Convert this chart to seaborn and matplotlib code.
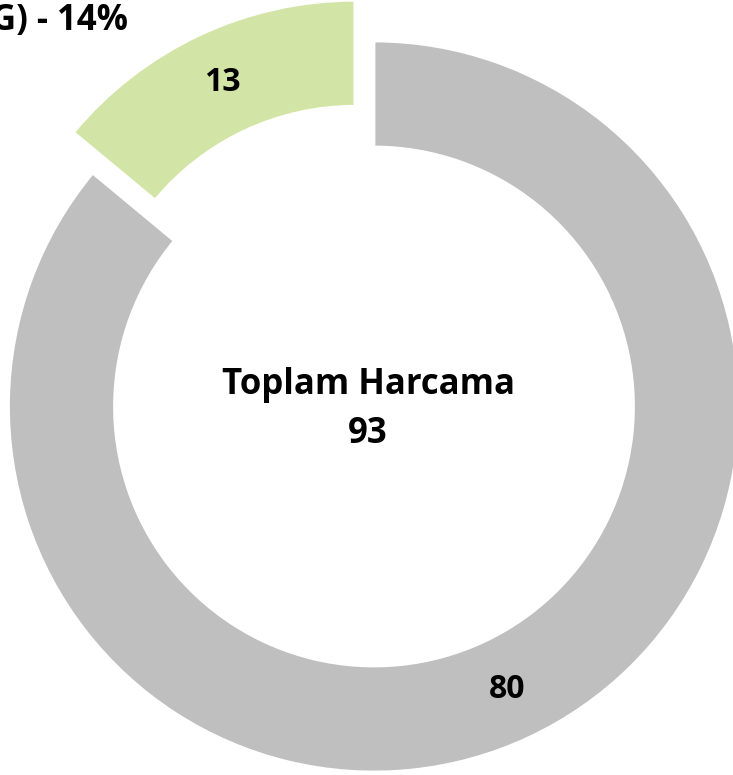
import matplotlib
matplotlib.use("Agg")
import matplotlib.pyplot as plt
import seaborn as sns

# data
labels = ["Yeşil", "Gri"]
values = [13, 80]
colors = ["#D3E4A7", "#BFBFBF"]
center_title = "Toplam Harcama"

sns.set_theme(style="white")
plt.rcParams['font.family'] = ['Open Sans', 'DejaVu Sans']
plt.rcParams['text.color'] = 'black'

W, H = 733, 775
fig = plt.figure(figsize=(W / 100, H / 100), dpi=100)
ax = fig.add_axes([0, 0, 1, 1])

cx, cy = 374, H - 406.5   # donut centre in pixel units
radius = 365.5
ring = 106
total = sum(values)

wedges, texts, autotexts = ax.pie(
    values,
    colors=colors,
    startangle=90,
    counterclock=True,
    radius=radius,
    center=(cx, cy),
    explode=[45, 0],
    wedgeprops=dict(width=ring, edgecolor="white", linewidth=2),
    autopct=lambda p: f"{p * total / 100:.0f}",
    pctdistance=0.855,
    textprops=dict(fontsize=23, fontweight="bold", color="black"),
)

ax.text(cx - 6, cy - 3, f"{center_title}\n{total}", ha="center", va="center",
        fontsize=25, fontweight="bold", color="black", linespacing=1.5)

# clipped data label at the top left
pct = round(values[0] / total * 100)
ax.text(128, H - 21, f"G) - {pct}%", ha="right", va="center",
        fontsize=25, fontweight="bold", color="black")

ax.set_xlim(0, W)
ax.set_ylim(0, H)
ax.set_aspect("equal")
ax.axis("off")

fig.savefig("out.png", dpi=100)
